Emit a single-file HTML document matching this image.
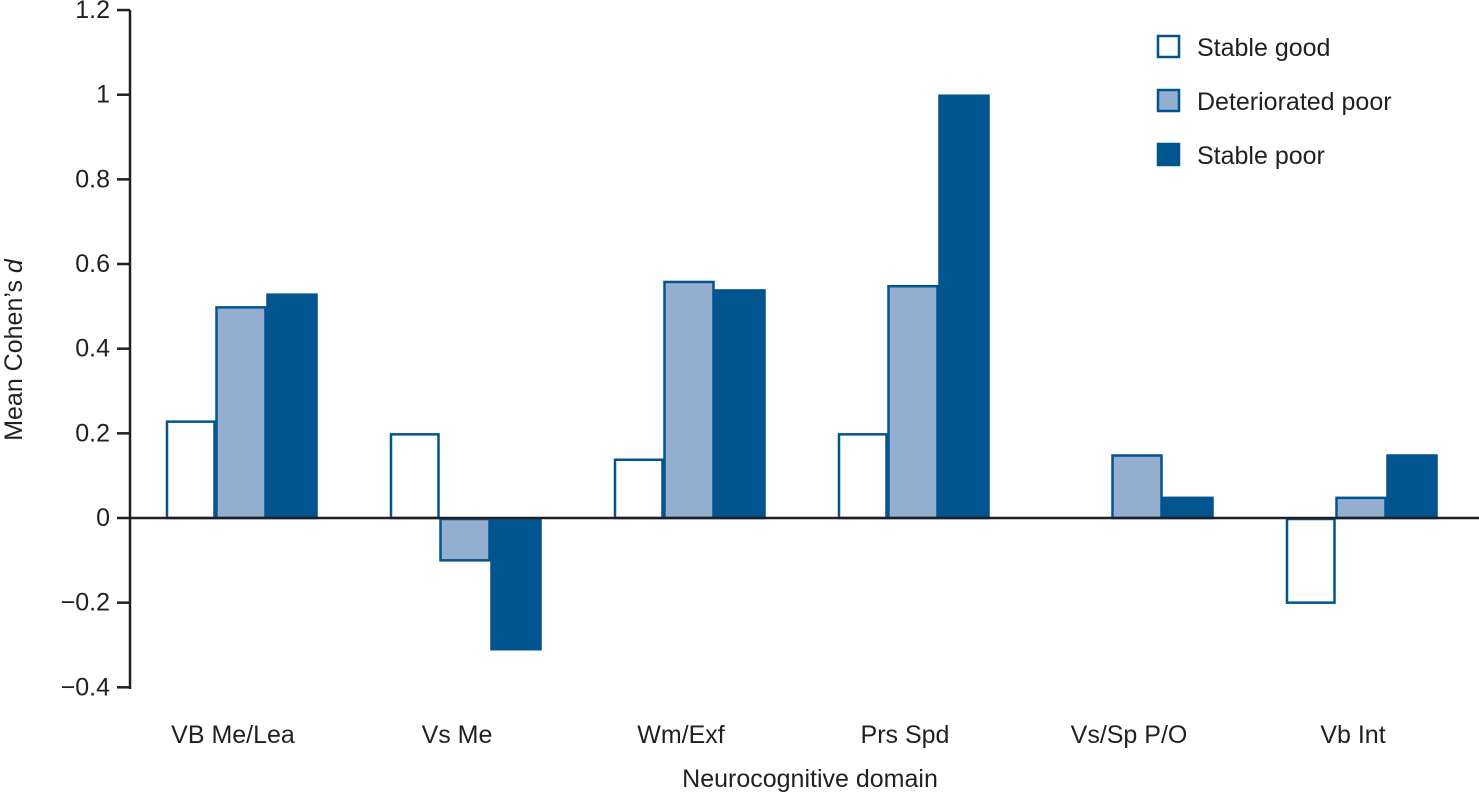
<!DOCTYPE html>
<html><head><meta charset="utf-8"><style>
body{margin:0;background:#fff}
svg text{font-family:"Liberation Sans",sans-serif;fill:#231f20}
</style></head><body>
<svg id="chart" width="1479" height="795"></svg>
<script>
const categories=["VB Me/Lea","Vs Me","Wm/Exf","Prs Spd","Vs/Sp P/O","Vb Int"];
const seriesNames=["Stable good","Deteriorated poor","Stable poor"];
const stableGood=[0.23,0.2,0.14,0.2,0,-0.2];
const deterioratedPoor=[0.5,-0.1,0.56,0.55,0.15,0.05];
const stablePoor=[0.53,-0.31,0.54,1.0,0.05,0.15];
const yTicks=[1.2,1,0.8,0.6,0.4,0.2,0,-0.2,-0.4];
const yTickLabels=["1.2","1","0.8","0.6","0.4","0.2","0","\u22120.2","\u22120.4"];

const NS="http://www.w3.org/2000/svg";
const svg=document.getElementById('chart');
function mk(t,a,p){const e=document.createElementNS(NS,t);for(const k in a)e.setAttribute(k,a[k]);(p||svg).appendChild(e);return e;}
const y0=518, k=423.3;
function y(v){return y0-v*k;}
function gx(i){return 241+i*224;}
const bw=51;
const styles=[{fill:"#fff",stroke:"#00558f"},{fill:"#94aecf",stroke:"#00558f"},{fill:"#00558f",stroke:"#00558f"}];
const series=[stableGood,deterioratedPoor,stablePoor];
series.forEach((s,si)=>{
  s.forEach((v,i)=>{
    if(v===0)return;
    const x=gx(i)-bw*1.5+si*bw+(si===0?1.5:0);
    const r=mk('rect',{x:x+1,y:Math.min(y(v),y0)+1,width:bw-2-(si===0?1.5:0),height:Math.abs(y(v)-y0)-1,fill:styles[si].fill,stroke:styles[si].stroke,'stroke-width':2.5});
    
    
  });
});
let a=mk('line',{x1:130,y1:10,x2:130,y2:689,stroke:"#231f20",'stroke-width':2.5});

a=mk('line',{x1:129,y1:y0,x2:1479,y2:y0,stroke:"#231f20",'stroke-width':2.5});

yTicks.forEach((v,i)=>{
  const t=mk('line',{x1:117,y1:y(v),x2:130,y2:y(v),stroke:"#231f20",'stroke-width':2.5});
  
  const l=mk('text',{x:110,y:y(v)+8,'text-anchor':'end','font-size':25});
  l.textContent=yTickLabels[i];
  
});
categories.forEach((c,i)=>{
  const l=mk('text',{x:gx(i)-8,y:743,'text-anchor':'middle','font-size':25});
  l.textContent=c;
  
});
let t=mk('text',{x:810,y:787,'text-anchor':'middle','font-size':25});
t.textContent="Neurocognitive domain";

t=mk('text',{transform:'translate(22,350) rotate(-90)','text-anchor':'middle','font-size':25});
t.innerHTML='Mean Cohen\u2019s <tspan font-style="italic">d</tspan>';

seriesNames.forEach((n,i)=>{
  const yy=36+i*54;
  const r=mk('rect',{x:1158,y:yy,width:21,height:21,fill:styles[i].fill,stroke:styles[i].stroke,'stroke-width':2.5});
  
  const l=mk('text',{x:1197,y:yy+20,'font-size':25});
  l.textContent=n;
  
});
</script>
</body></html>
